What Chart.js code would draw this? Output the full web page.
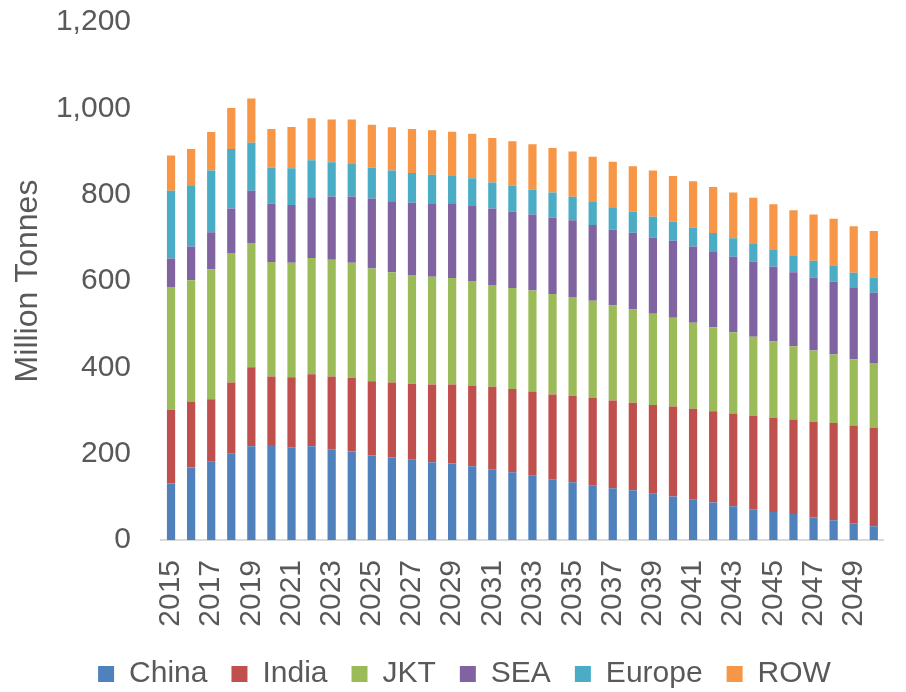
<!DOCTYPE html>
<html>
<head>
<meta charset="utf-8">
<script src="https://cdn.jsdelivr.net/npm/chart.js@4"></script>
<style>
  html, body { margin:0; padding:0; background:#fff; overflow:hidden; }
  #wrap { position:relative; width:930px; height:692px; }
</style>
</head>
<body>
<div id="wrap"><canvas id="chart"></canvas></div>
<script>
// ── data (million tonnes) ───────────────────────────────────────────────────
const years = [];
for (let y = 2015; y <= 2050; y++) years.push(String(y));

const china  = [131,168,181,200,217,220,215,217,210,205,196,191,186,180,177,171,164,157,149,141,134,127,120,115,107,101, 93, 87, 78, 71, 65, 60, 52, 46, 39, 32];
const india  = [171,153,145,165,183,159,162,167,169,171,172,174,176,180,183,186,191,193,195,196,200,202,203,203,206,208,211,211,215,217,218,219,222,225,226,228];
const jkt    = [284,281,301,300,288,265,265,269,270,266,261,255,252,250,247,243,236,234,234,233,229,225,220,216,211,206,199,195,188,183,177,170,165,159,154,150];
const sea    = [ 66, 78, 86,103,121,135,134,141,147,154,162,165,167,170,173,174,177,177,176,177,178,176,176,178,177,178,177,176,175,174,173,171,169,168,165,163];
const europe = [157,142,143,138,111, 84, 85, 86, 79, 77, 72, 71, 69, 66, 63, 64, 60, 60, 58, 58, 54, 53, 52, 49, 48, 44, 44, 42, 43, 41, 39, 38, 39, 37, 35, 35];
const row    = [ 82, 84, 89, 95,103, 89, 96, 97, 99,101, 99,100,102,103,103,103,103,103,105,103,105,105,105,105,107,106,107,107,106,107,106,106,107,109,108,108];

const yTicks = [0, 200, 400, 600, 800, 1000, 1200];

const SERIES = [
  { label:'China',  data:china,  color:'#4f81bd' },
  { label:'India',  data:india,  color:'#c0504d' },
  { label:'JKT',    data:jkt,    color:'#9bbb59' },
  { label:'SEA',    data:sea,    color:'#8064a2' },
  { label:'Europe', data:europe, color:'#4bacc6' },
  { label:'ROW',    data:row,    color:'#f79646' },
];

const TXT = '#595959';
const FONT = 'Liberation Sans, Arial, sans-serif';

new Chart(document.getElementById('chart'), {
  type: 'bar',
  data: {
    labels: years,
    datasets: SERIES.map(s => ({
      label: s.label,
      data: s.data,
      backgroundColor: s.color,
      borderWidth: 0,
      barPercentage: 0.41,
      categoryPercentage: 1,
    })),
  },
  options: {
    responsive: true,
    maintainAspectRatio: false,
    animation: false,
    layout: { padding: { top: 22, left: 15, right: 16, bottom: 0 } },
    plugins: {
      tooltip: { enabled: false },
      legend: {
        position: 'bottom',
        maxHeight: 57,
        labels: {
          color: TXT, font: { family: FONT, size: 30 },
          boxWidth: 16, boxHeight: 16, padding: 24,
        },
      },
    },
    scales: {
      x: {
        stacked: true,
        grid: { display: false, drawTicks: false },
        border: { display: true, color: '#d9d9d9', width: 2 },
        ticks: {
          autoSkip: false, maxRotation: 90, minRotation: 90, padding: 20,
          color: TXT, font: { family: FONT, size: 30 },
          callback: (v, i) => i % 2 === 0 ? years[i] : '',
        },
        afterFit: s => { s.height = 95; },
      },
      y: {
        stacked: true,
        min: 0, max: 1200,
        afterBuildTicks: s => { s.ticks = yTicks.map(v => ({ value: v })); },
        grid: { display: false, drawTicks: false },
        border: { display: false },
        ticks: {
          padding: 30, color: TXT, font: { family: FONT, size: 30 },
          callback: v => v.toLocaleString('en-US'),
        },
        title: {
          display: true, text: 'Million Tonnes', color: TXT,
          font: { family: FONT, size: 32, lineHeight: 1 }, padding: { top: -3 },
        },
        afterFit: s => { s.width = 146; s.paddingTop = 0; s.paddingBottom = 0; },
      },
    },
  },
});
</script>
</body>
</html>
